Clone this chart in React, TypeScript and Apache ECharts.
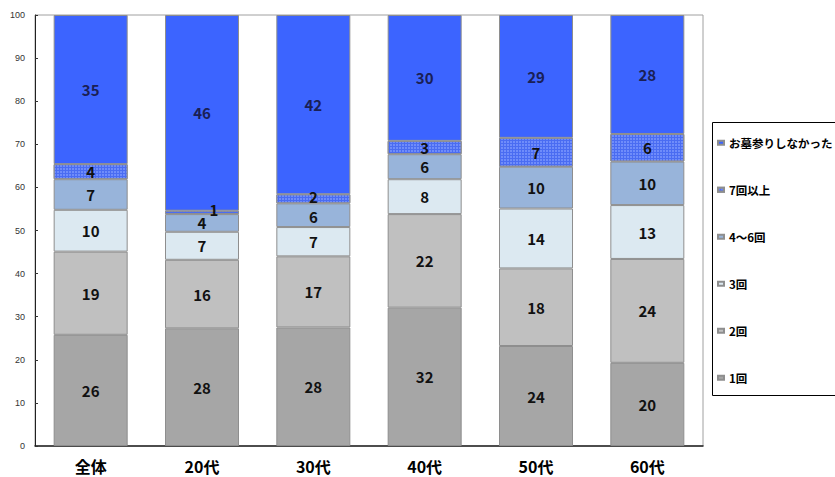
import React, { useEffect, useRef } from "react";
import * as echarts from "echarts";

const categories = ["全体", "20代", "30代", "40代", "50代", "60代"];
const seriesNames = ["1回", "2回", "3回", "4～6回", "7回以上", "お墓参りしなかった"];

// measured segment heights (%)
const once = [25.8, 27.3, 27.5, 32.1, 23.2, 19.3];
const twice = [19.3, 15.9, 16.5, 21.7, 18.0, 24.1];
const three = [9.7, 6.5, 6.8, 8.1, 13.9, 12.5];
const fourToSix = [7.1, 4.1, 5.5, 5.8, 9.7, 10.1];
const sevenPlus = [3.5, 0.8, 2.1, 3.1, 6.7, 6.4];
const none = [34.6, 45.4, 41.6, 29.2, 28.5, 27.6];

// printed labels
const onceLabels = [26, 28, 28, 32, 24, 20];
const twiceLabels = [19, 16, 17, 22, 18, 24];
const threeLabels = [10, 7, 7, 8, 14, 13];
const fourToSixLabels = [7, 4, 6, 6, 10, 10];
const sevenPlusLabels = [4, 1, 2, 3, 7, 6];
const noneLabels = [35, 46, 42, 30, 29, 28];

const yTicks = [0, 10, 20, 30, 40, 50, 60, 70, 80, 90, 100];

const FONT = "'Noto Sans CJK JP', 'Liberation Sans', sans-serif";

export default function App() {
  const ref = useRef<HTMLDivElement>(null);
  useEffect(() => {
    if (!ref.current) return;
    const chart = echarts.init(ref.current, undefined, { renderer: "svg" });
    const values = [once, twice, three, fourToSix, sevenPlus, none];
    const labels = [onceLabels, twiceLabels, threeLabels, fourToSixLabels, sevenPlusLabels, noneLabels];
    const colors = ["#A6A6A6", "#C0C0C0", "#DCE9F1", "#98B4DA", "#4A6CF2", "#3C64FF"];
    const series = values.map((vals, si) => ({
      name: seriesNames[si],
      type: "bar",
      stack: "total",
      barWidth: 74,
      data: vals.map((v, i) => {
        const item: any = { value: v };
        if (si === 4 && i === 1) {
          item.label = { offset: [12, -3] };
        }
        if (si === 4 && i === 2) {
          item.label = { offset: [0, -2] };
        }
        if (si === 3 && i === 2) {
          item.label = { offset: [0, 1] };
        }
        return item;
      }),
      itemStyle: {
        color: colors[si],
        borderColor: "#8E8E8E",
        borderWidth: 1,
        ...(si === 4
          ? {
              decal: {
                symbol: "rect",
                symbolSize: 1,
                color: "#6F8CFA",
                dashArrayX: [2, 1],
                dashArrayY: [2, 1],
                rotation: 0,
              },
            }
          : {}),
      },
      label: {
        show: true,
        position: "inside",
        fontFamily: FONT,
        fontWeight: "bold",
        fontSize: 15,
        lineHeight: 14,
        color: si === 5 ? "#1A1F55" : "#111111",
        formatter: (p: any) => String(labels[si][p.dataIndex]),
      },
    }));

    chart.setOption({
      animation: false,
      backgroundColor: "#ffffff",
      grid: {
        left: 35,
        top: 15,
        right: 132,
        bottom: 31,
        show: true,
        borderColor: "#A0A0A0",
        borderWidth: 1,
      },
      xAxis: {
        type: "category",
        data: categories,
        axisLine: { lineStyle: { color: "#222", width: 1.5 } },
        axisTick: { inside: true, length: 4, lineStyle: { color: "#555" } },
        axisLabel: {
          fontFamily: FONT,
          fontWeight: "bold",
          fontSize: 16,
          lineHeight: 16,
          color: "#000",
          margin: 12,
        },
      },
      yAxis: {
        type: "value",
        min: yTicks[0],
        max: yTicks[yTicks.length - 1],
        interval: 10,
        splitLine: { show: false },
        axisLine: { show: true, lineStyle: { color: "#222" } },
        axisTick: { show: true, inside: true, length: 3, lineStyle: { color: "#333" } },
        axisLabel: {
          fontFamily: "'Liberation Sans', sans-serif",
          fontSize: 9,
          color: "#333",
          margin: 10,
        },
      },
      legend: {
        orient: "vertical",
        left: 712,
        top: 132,
        itemWidth: 6,
        itemHeight: 4,
        itemGap: 35.5,
        icon: "rect",
        data: [...seriesNames].reverse(),
        textStyle: {
          fontFamily: FONT,
          fontSize: 11.5,
          fontWeight: "bold",
          color: "#000",
        },
      },
      graphic: [
        {
          type: "rect",
          shape: { x: 712.5, y: 122.5, width: 140, height: 273 },
          style: { fill: "none", stroke: "#000", lineWidth: 1 },
          silent: true,
        },
      ],
      series,
    });
    return () => chart.dispose();
  }, []);
  return (
    <div style={{ position: "absolute", left: 0, top: 0 }}>
      <div ref={ref} style={{ width: 835, height: 477 }} />
    </div>
  );
}
